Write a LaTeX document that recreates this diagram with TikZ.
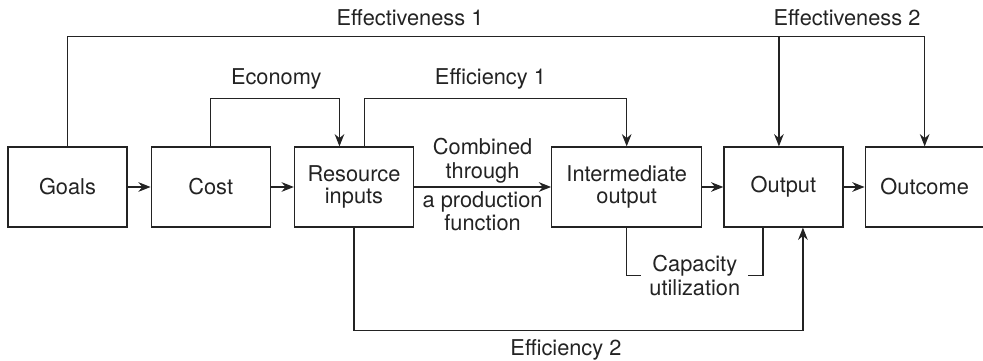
\documentclass[tikz,border=0pt]{standalone}
\usepackage{fontspec}
\setmainfont{TeX Gyre Heros}
\definecolor{ink}{RGB}{35, 35, 35}
\usetikzlibrary{arrows.meta, positioning, calc}
\tikzset{
    block/.style={
        rectangle, draw=ink, text=ink, line width=0.7pt,
        minimum width=2.38cm, minimum height=1.6cm,
        align=center, font=\fontsize{12.4}{12.5}\selectfont
    },
    arrow/.style={-{Stealth[length=7pt, width=5.5pt]}, line width=0.7pt, color=ink},
    link/.style={line width=0.7pt, color=ink},
    lbl/.style={text=ink, align=center, inner sep=2pt, font=\fontsize{12.4}{13.5}\selectfont}
}
\begin{document}
\begin{tikzpicture}
    \useasboundingbox (-1.35,-3.48) rectangle (18.31,3.74);

    % Main chain
    \node[block] (goals) {Goals};
    \node[block, right=0.46cm of goals] (cost) {Cost};
    \node[block, right=0.46cm of cost] (res) {Resource\\inputs};
    \node[block, right=2.74cm of res, minimum width=3cm] (inter) {Intermediate\\output};
    \node[block, right=0.42cm of inter] (output) {Output};
    \node[block, right=0.42cm of output] (outcome) {Outcome};

    \draw[arrow] (goals) -- (cost);
    \draw[arrow] (cost) -- (res);
    \draw[arrow] (res) -- node[lbl, above] (comb) {Combined\\through}
        node[lbl, below] (prod) {a production\\function} (inter);
    \draw[arrow] (inter) -- (output);
    \draw[arrow] (output) -- (outcome);

    % Effectiveness loops
    \coordinate (eff) at ($(goals.north)+(0,2.2)$);
    \coordinate (effout) at ($(output.north)+(-0.09,0)$);
    \draw[arrow] (goals.north) -- (eff) -| (outcome.north);
    \draw[arrow] (eff -| effout) -- (effout);

    % Economy and efficiency
    \coordinate (econ) at ($(cost.north)+(0,0.96)$);
    \coordinate (econin) at ($(res.north)+(-0.29,0)$);
    \draw[arrow] (cost.north) -- (econ) -| (econin);

    \coordinate (effone) at ($(res.north)+(0.21,0.96)$);
    \draw[arrow] (effone |- res.north) -- (effone) -| (inter.north);

    \coordinate (efftwo) at ($(res.south)+(0,-2.06)$);
    \coordinate (efftwoin) at ($(output.south)+(0.39,0)$);
    \draw[arrow] (res.south) -- (efftwo) -| (efftwoin);

    % Capacity utilization
    \coordinate (capin) at ($(output.south)+(-0.41,0)$);
    \draw[link] (inter.south) -- ++(0,-0.96) -| node[lbl, pos=0.25, fill=white, inner xsep=0.16cm] (cap) {Capacity\\utilization} (capin);

    % Labels
    \node[lbl] (effonelbl) at ($(eff)+(6.85,0.38)$) {Effectiveness 1};
    \node[lbl] (efftwolbl) at ($(eff)+(15.59,0.38)$) {Effectiveness 2};
    \node[lbl] (econlbl) at ($(econ)+(1.31,0.38)$) {Economy};
    \node[lbl] (effilbl) at ($(effone)+(2.52,0.38)$) {Efficiency 1};
    \node[lbl] (effiilbl) at ($(efftwo)+(4.24,-0.38)$) {Efficiency 2};

\end{tikzpicture}
\end{document}
